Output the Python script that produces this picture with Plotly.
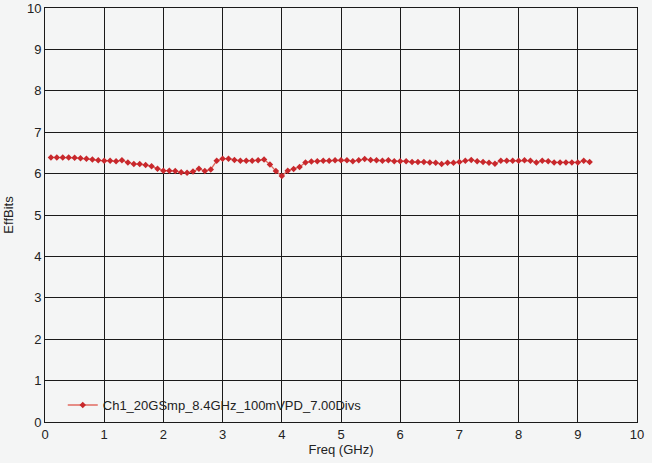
import plotly.graph_objects as go

freq_ghz = [0.1, 0.2, 0.3, 0.4, 0.5, 0.6, 0.7, 0.8, 0.9, 1.0,
            1.1, 1.2, 1.3, 1.4, 1.5, 1.6, 1.7, 1.8, 1.9, 2.0,
            2.1, 2.2, 2.3, 2.4, 2.5, 2.6, 2.7, 2.8, 2.9, 3.0,
            3.1, 3.2, 3.3, 3.4, 3.5, 3.6, 3.7, 3.8, 3.9, 4.0,
            4.1, 4.2, 4.3, 4.4, 4.5, 4.6, 4.7, 4.8, 4.9, 5.0,
            5.1, 5.2, 5.3, 5.4, 5.5, 5.6, 5.7, 5.8, 5.9, 6.0,
            6.1, 6.2, 6.3, 6.4, 6.5, 6.6, 6.7, 6.8, 6.9, 7.0,
            7.1, 7.2, 7.3, 7.4, 7.5, 7.6, 7.7, 7.8, 7.9, 8.0,
            8.1, 8.2, 8.3, 8.4, 8.5, 8.6, 8.7, 8.8, 8.9, 9.0,
            9.1, 9.2]
eff_bits = [6.39, 6.39, 6.39, 6.39, 6.38, 6.37, 6.36, 6.34, 6.32, 6.31,
            6.31, 6.30, 6.32, 6.27, 6.23, 6.23, 6.21, 6.18, 6.12, 6.07,
            6.07, 6.06, 6.03, 6.02, 6.05, 6.12, 6.06, 6.10, 6.31, 6.36,
            6.36, 6.33, 6.31, 6.31, 6.31, 6.32, 6.34, 6.22, 6.06, 5.94,
            6.07, 6.11, 6.16, 6.27, 6.29, 6.30, 6.31, 6.31, 6.32, 6.32,
            6.32, 6.30, 6.32, 6.35, 6.33, 6.32, 6.31, 6.32, 6.30, 6.30,
            6.30, 6.28, 6.28, 6.28, 6.27, 6.26, 6.23, 6.26, 6.26, 6.28,
            6.31, 6.33, 6.30, 6.28, 6.26, 6.24, 6.31, 6.31, 6.31, 6.31,
            6.32, 6.31, 6.27, 6.31, 6.30, 6.27, 6.27, 6.27, 6.27, 6.27,
            6.31, 6.28]
series_name = "Ch1_20GSmp_8.4GHz_100mVPD_7.00Divs"
tick_vals = [0, 1, 2, 3, 4, 5, 6, 7, 8, 9, 10]

fig = go.Figure()
fig.add_trace(go.Scatter(
    x=freq_ghz, y=eff_bits, name=series_name, mode="lines+markers",
    line=dict(color="#e26a60", width=1.3),
    marker=dict(symbol="diamond", size=5, color="#c8282c"),
))

font = dict(family="Liberation Sans, Arial, sans-serif", size=13, color="#222222")
axis_common = dict(
    range=[0, 10], tickvals=tick_vals, showgrid=True, gridcolor="#1a1a1a",
    gridwidth=1, showline=True, linecolor="#1a1a1a", linewidth=1, mirror=True,
    zeroline=False, ticks="", tickfont=font, automargin=False,
)
fig.update_xaxes(title=dict(text="Freq (GHz)", font=font, standoff=2), **axis_common)
fig.update_yaxes(title=dict(text="EffBits", font=font, standoff=10), **axis_common)

fig.update_layout(
    width=652, height=463,
    margin=dict(l=45, r=15, t=8, b=41),
    paper_bgcolor="#f4f5f5", plot_bgcolor="#f4f5f5",
    font=font,
    showlegend=True,
    legend=dict(x=0.03, y=0.041, xanchor="left", yanchor="middle",
                bgcolor="rgba(0,0,0,0)", font=dict(family="Liberation Sans, Arial, sans-serif", size=13, color="#222222"),
                itemwidth=30),
)

fig.write_html("out.html", config={"displayModeBar": False},
               post_script="document.body.style.margin='0';document.body.style.padding='0';document.body.style.background='#f4f5f5';")
